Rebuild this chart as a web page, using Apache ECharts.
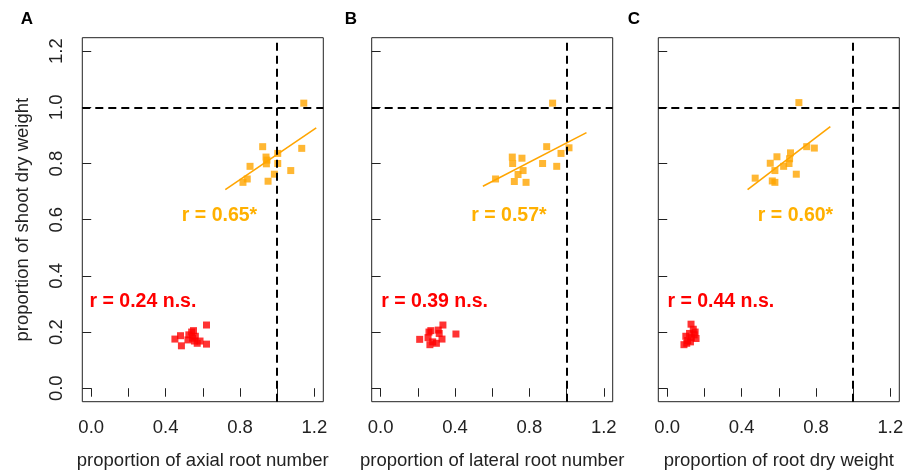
<!DOCTYPE html>
<html>
<head>
<meta charset="utf-8">
<script src="https://cdn.jsdelivr.net/npm/echarts@6/dist/echarts.min.js"></script>
<style>html,body{margin:0;padding:0;background:#fff;}#c{width:903px;height:473px;}</style>
</head>
<body>
<div id="c"></div>
<script>
// ---- data ----
const panelLetters = ['A', 'B', 'C'];
const xTitles = ['proportion of axial root number', 'proportion of lateral root number', 'proportion of root dry weight'];
const yTitle = 'proportion of shoot dry weight';
const tickValues = [0, 0.2, 0.4, 0.6, 0.8, 1.0, 1.2];
const xLabelValues = [0, 0.4, 0.8, 1.2];
const yLabelValues = [0, 0.2, 0.4, 0.6, 0.8, 1.0, 1.2];

const shootVsAxial = [[1.143,1.015],[0.922,0.860],[1.132,0.854],[1.003,0.836],[0.940,0.823],[0.945,0.812],[0.942,0.799],[1.003,0.800],[0.854,0.790],[1.073,0.775],[0.985,0.762],[0.839,0.745],[0.816,0.733],[0.951,0.737]];
const shootVsLateral = [[0.925,1.015],[0.893,0.860],[1.013,0.856],[0.970,0.836],[0.708,0.823],[0.760,0.819],[0.710,0.800],[0.871,0.800],[0.947,0.790],[0.766,0.775],[0.739,0.761],[0.618,0.745],[0.719,0.736],[0.782,0.733]];
const shootVsRootDW = [[0.708,1.017],[0.750,0.860],[0.791,0.855],[0.663,0.838],[0.590,0.824],[0.658,0.817],[0.655,0.800],[0.554,0.801],[0.626,0.790],[0.579,0.775],[0.694,0.762],[0.473,0.748],[0.565,0.738],[0.579,0.733]];

const redAxial = [[0.45,0.175],[0.48,0.187],[0.485,0.151],[0.525,0.19],[0.54,0.20],[0.545,0.178],[0.56,0.185],[0.555,0.168],[0.57,0.16],[0.585,0.168],[0.52,0.172],[0.62,0.225],[0.62,0.157],[0.55,0.205]];
const redLateral = [[0.21,0.174],[0.26,0.2],[0.255,0.18],[0.265,0.155],[0.28,0.165],[0.3,0.16],[0.33,0.175],[0.315,0.195],[0.31,0.207],[0.335,0.225],[0.405,0.193],[0.27,0.205]];
const redRootDW = [[0.128,0.228],[0.14,0.21],[0.15,0.2],[0.12,0.195],[0.1,0.185],[0.13,0.18],[0.155,0.177],[0.11,0.17],[0.125,0.165],[0.09,0.155],[0.105,0.16],[0.145,0.19]];

const fitAxial = [[0.721,0.707],[1.210,0.927]];
const fitLateral = [[0.550,0.719],[1.107,0.910]];
const fitRootDW = [[0.432,0.707],[0.877,0.931]];

const orangeText = ['r = 0.65*', 'r = 0.57*', 'r = 0.60*'];
const orangeTextAt = [[0.69,0.614],[0.69,0.614],[0.69,0.614]];
const redText = ['r = 0.24 n.s.', 'r = 0.39 n.s.', 'r = 0.44 n.s.'];
const redTextAt = [[0.278,0.308],[0.29,0.308],[0.288,0.308]];
const refX = 1, refY = 1;

// ---- layout / style ----
const FONT = '"Liberation Sans", Arial, sans-serif';
const ORANGE = '#FFA500', ORANGE_TXT = '#FFB000', RED = '#FF0000', INK = '#222';
const gridLefts = [82.3, 371.7, 658.3];
const orangeSets = [shootVsAxial, shootVsLateral, shootVsRootDW];
const redSets = [redAxial, redLateral, redRootDW];
const fits = [fitAxial, fitLateral, fitRootDW];
const AX_MIN = -0.048, AX_MAX = 1.248;

const grids = [], xAxes = [], yAxes = [], series = [], graphics = [];
const letterX = [27, 351, 634];
for (let i = 0; i < 3; i++) {
  grids.push({left: gridLefts[i], top: 37.7, width: 241, height: 364, show: true,
    borderColor: INK, borderWidth: 1, backgroundColor: 'transparent', containLabel: false, outerBoundsMode: 'none'});
  xAxes.push({type: 'value', gridIndex: i, min: AX_MIN, max: AX_MAX,
    axisLine: {show: false}, splitLine: {show: false},
    axisTick: {show: true, inside: false, length: 8.5, customValues: tickValues, lineStyle: {color: INK, width: 1}},
    axisLabel: {show: true, customValues: xLabelValues, margin: 17, color: INK, fontSize: 18.5, fontFamily: FONT,
      formatter: v => v.toFixed(1)},
    name: xTitles[i], nameLocation: 'middle', nameGap: 50, nameTextStyle: {color: INK, fontSize: 18.5, fontFamily: FONT}});
  yAxes.push({type: 'value', gridIndex: i, min: AX_MIN, max: AX_MAX,
    axisLine: {show: false}, splitLine: {show: false},
    axisTick: {show: true, inside: false, length: 9, customValues: tickValues, lineStyle: {color: INK, width: 1}},
    axisLabel: {show: i === 0, customValues: yLabelValues, rotate: 90, margin: 16, color: INK, fontSize: 18.5, fontFamily: FONT,
      formatter: v => v.toFixed(1)},
    name: i === 0 ? yTitle : '', nameLocation: 'middle', nameGap: 50, nameRotate: 90,
    nameTextStyle: {color: INK, fontSize: 18.5, fontFamily: FONT}});

  series.push({type: 'line', xAxisIndex: i, yAxisIndex: i, data: fits[i], symbol: 'none', silent: true,
    lineStyle: {color: ORANGE, width: 1.6}, z: 3});
  series.push({type: 'scatter', xAxisIndex: i, yAxisIndex: i, data: orangeSets[i], symbol: 'rect', symbolSize: 7,
    itemStyle: {color: ORANGE}, silent: true, z: 4});
  series.push({type: 'scatter', xAxisIndex: i, yAxisIndex: i, data: redSets[i], symbol: 'rect', symbolSize: 7,
    itemStyle: {color: RED}, silent: true, z: 4,
    markLine: {silent: true, symbol: ['none', 'none'], label: {show: false},
      lineStyle: {color: '#000', width: 2, type: [8, 5]},
      data: [{xAxis: refX}, {yAxis: refY}]}});
  const texts = [{t: orangeText[i], at: orangeTextAt[i], c: ORANGE_TXT}, {t: redText[i], at: redTextAt[i], c: RED}];
  series.push({type: 'custom', xAxisIndex: i, yAxisIndex: i, silent: true, z: 5,
    data: texts.map(o => o.at),
    renderItem: (params, api) => {
      const p = api.coord([api.value(0), api.value(1)]);
      const o = texts[params.dataIndex];
      return {type: 'text', x: p[0], y: p[1], style: {text: o.t, fill: o.c, fontSize: 19.5, fontWeight: 'bold',
        fontFamily: FONT, align: 'center', verticalAlign: 'middle'}};
    }});
  graphics.push({type: 'text', x: letterX[i], y: 19, style: {text: panelLetters[i], fill: '#000', fontSize: 17,
    fontWeight: 'bold', fontFamily: FONT, align: 'center', verticalAlign: 'middle'}});
}

const chart = echarts.init(document.getElementById('c'), null, {renderer: 'canvas'});
chart.setOption({animation: false, backgroundColor: '#fff', grid: grids, xAxis: xAxes, yAxis: yAxes,
  series: series, graphic: graphics, tooltip: {show: false}});
</script>
</body>
</html>
